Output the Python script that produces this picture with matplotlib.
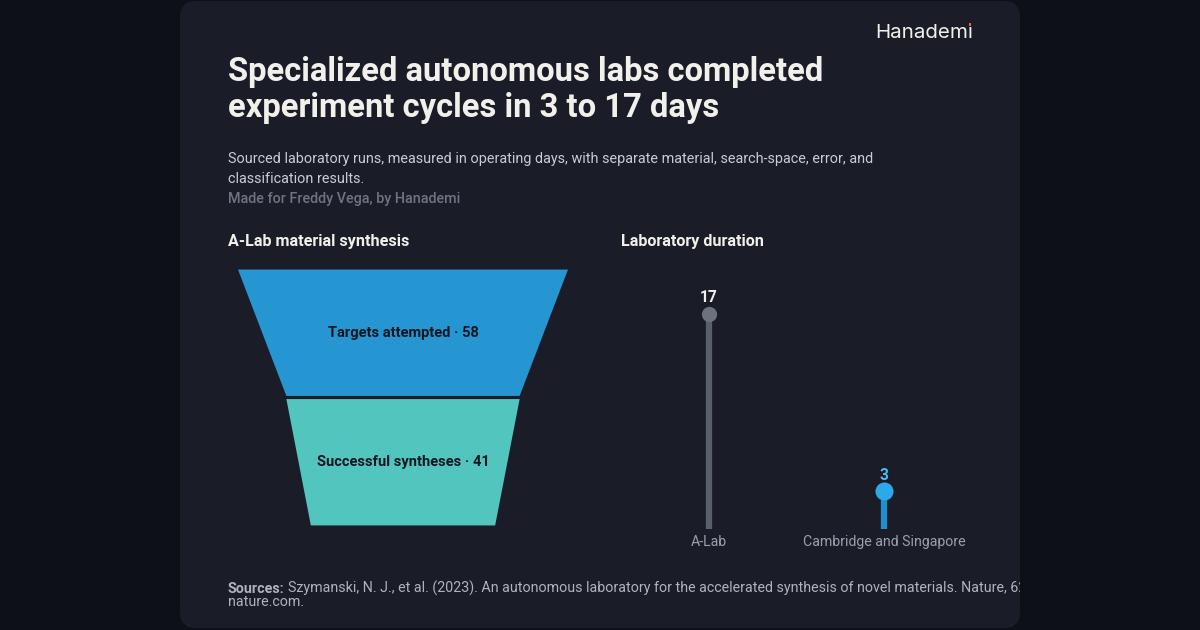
import matplotlib
matplotlib.use('Agg')
import matplotlib.pyplot as plt
from matplotlib.patches import FancyBboxPatch, Polygon

# ---------------- data ----------------
stages = ['Targets attempted', 'Successful syntheses']
stage_values = [58, 41]
labs = ['A-Lab', 'Cambridge and Singapore']
lab_days = [17, 3]

title_lines = ['Specialized autonomous labs completed', 'experiment cycles in 3 to 17 days']
subtitle_lines = ['Sourced laboratory runs, measured in operating days, with separate material, search-space, error, and',
                  'classification results.']
credit = 'Made for Freddy Vega, by Hanademi'
source_line1 = ('Szymanski, N. J., et al. (2023). An autonomous laboratory for the accelerated synthesis of novel '
                'materials. Nature, 624, 86\u201391.')
source_line2 = 'nature.com.'

# ---------------- style ----------------
FONT = ['Roboto', 'DejaVu Sans']
plt.rcParams['font.family'] = FONT
W, H = 1200, 630
PAGE = '#0d1017'
CARD = '#1a1d28'
WHITE = '#f2f0ea'
SUB = '#c9ccd3'
MUTED = '#6f7481'
FUNNEL_COLORS = ['#2596d1', '#53c5bf']
STEM_COLORS = ['#5a5f6c', '#1f8fd0']
DOT_COLORS = ['#6c717e', '#2aaae9']
VAL_COLORS = [WHITE, '#4db9f0']

fig = plt.figure(figsize=(W / 100, H / 100), dpi=100)
fig.patch.set_facecolor(PAGE)


def rect(x0, y0, x1, y1):
    return [x0 / W, 1 - y1 / H, (x1 - x0) / W, (y1 - y0) / H]


bg = fig.add_axes([0, 0, 1, 1])
bg.set_xlim(0, W)
bg.set_ylim(H, 0)
bg.axis('off')

card = FancyBboxPatch((180, 1), 840, 627, boxstyle='round,pad=0,rounding_size=16',
                      facecolor=CARD, edgecolor='none', zorder=0)
bg.add_patch(card)

# logo
logo = bg.text(973, 38, 'Hanadem\u0131', ha='right', va='baseline', fontsize=14.8,
               color=WHITE, family=['Inter', 'DejaVu Sans'])
fig.canvas.draw()
r = fig.canvas.get_renderer()
bb = logo.get_window_extent(r)
inv = bg.transData.inverted()
(x0, y0), (x1, y1) = inv.transform([[bb.x0, bb.y0], [bb.x1, bb.y1]])
bg.add_patch(plt.Rectangle((x1 - 4.4, 22.5), 2.8, 3.4, color='#f0643c', lw=0, zorder=3))

# title
for i, line in enumerate(title_lines):
    bg.text(228, 81 + 36 * i, line, ha='left', va='baseline', fontsize=23.6,
            fontweight='bold', color=WHITE)
for i, line in enumerate(subtitle_lines):
    bg.text(228, 163 + 20 * i, line, ha='left', va='baseline', fontsize=10.35, color=SUB)
bg.text(228, 203, credit, ha='left', va='baseline', fontsize=10.35, fontweight='medium', color=MUTED)

# section headers
bg.text(228, 246, 'A-Lab material synthesis', ha='left', va='baseline', fontsize=11.6,
        fontweight='bold', color=WHITE)
bg.text(621, 246, 'Laboratory duration', ha='left', va='baseline', fontsize=11.6,
        fontweight='bold', color=WHITE)

# sources
t1 = bg.text(228, 593, 'Sources:', ha='left', va='baseline', fontsize=10.3, fontweight='bold',
             color='#aeb3bd')
fig.canvas.draw()
bb = t1.get_window_extent(r)
sx = inv.transform([[bb.x1, bb.y0]])[0][0]
bg.text(sx + 3, 593, source_line1, ha='left', va='baseline', fontsize=10.3, color='#aeb3bd')
bg.text(228, 605.5, source_line2, ha='left', va='baseline', fontsize=10.3, color='#aeb3bd')
# page background beyond the card hides the overflowing source text
bg.add_patch(plt.Rectangle((1020, 540), 180, 90, color=PAGE, lw=0, zorder=10))

# ---------------- funnel ----------------
fa = fig.add_axes(rect(238, 268, 568, 527))
fa.set_facecolor('none')
maxv = max(stage_values)
fa.set_xlim(-maxv / 2, maxv / 2)
fa.set_ylim(len(stages), 0)
fa.axis('off')
gap = 0.012
last_taper = 0.79
for i, (name, v) in enumerate(zip(stages, stage_values)):
    nxt = stage_values[i + 1] if i + 1 < len(stage_values) else v * last_taper
    top, bot = i + gap, i + 1 - gap
    poly = Polygon([(-v / 2, top), (v / 2, top), (nxt / 2, bot), (-nxt / 2, bot)],
                   closed=True, facecolor=FUNNEL_COLORS[i], edgecolor='none')
    fa.add_patch(poly)
    fa.text(0, i + 0.5, f'{name} \u00b7 {v}', ha='center', va='center', fontsize=10.5,
            fontweight='bold', color='#10161f')

# ---------------- lollipop ----------------
la = fig.add_axes(rect(621, 276, 972, 529))
la.set_facecolor('none')
la.set_xlim(-0.5, len(labs) - 0.5)
la.set_ylim(0, 20)
la.axis('off')
for i, (name, d) in enumerate(zip(labs, lab_days)):
    la.plot([i, i], [0, d], color=STEM_COLORS[i], lw=4.5, solid_capstyle='butt', zorder=2)
    la.plot([i], [d], 'o', ms=11 if i == 0 else 13, color=DOT_COLORS[i], mec='none', zorder=3)
    la.annotate(str(d), (i, d), xytext=(0, 16), textcoords='offset pixels', ha='center',
                va='center', fontsize=11.2, fontweight='bold', color=VAL_COLORS[i])
    la.annotate(name, (i, 0), xytext=(0, -13), textcoords='offset pixels', ha='center',
                va='center', fontsize=10.2, color='#9aa0ac', annotation_clip=False)

fig.savefig('out.png', dpi=100, facecolor=PAGE)
